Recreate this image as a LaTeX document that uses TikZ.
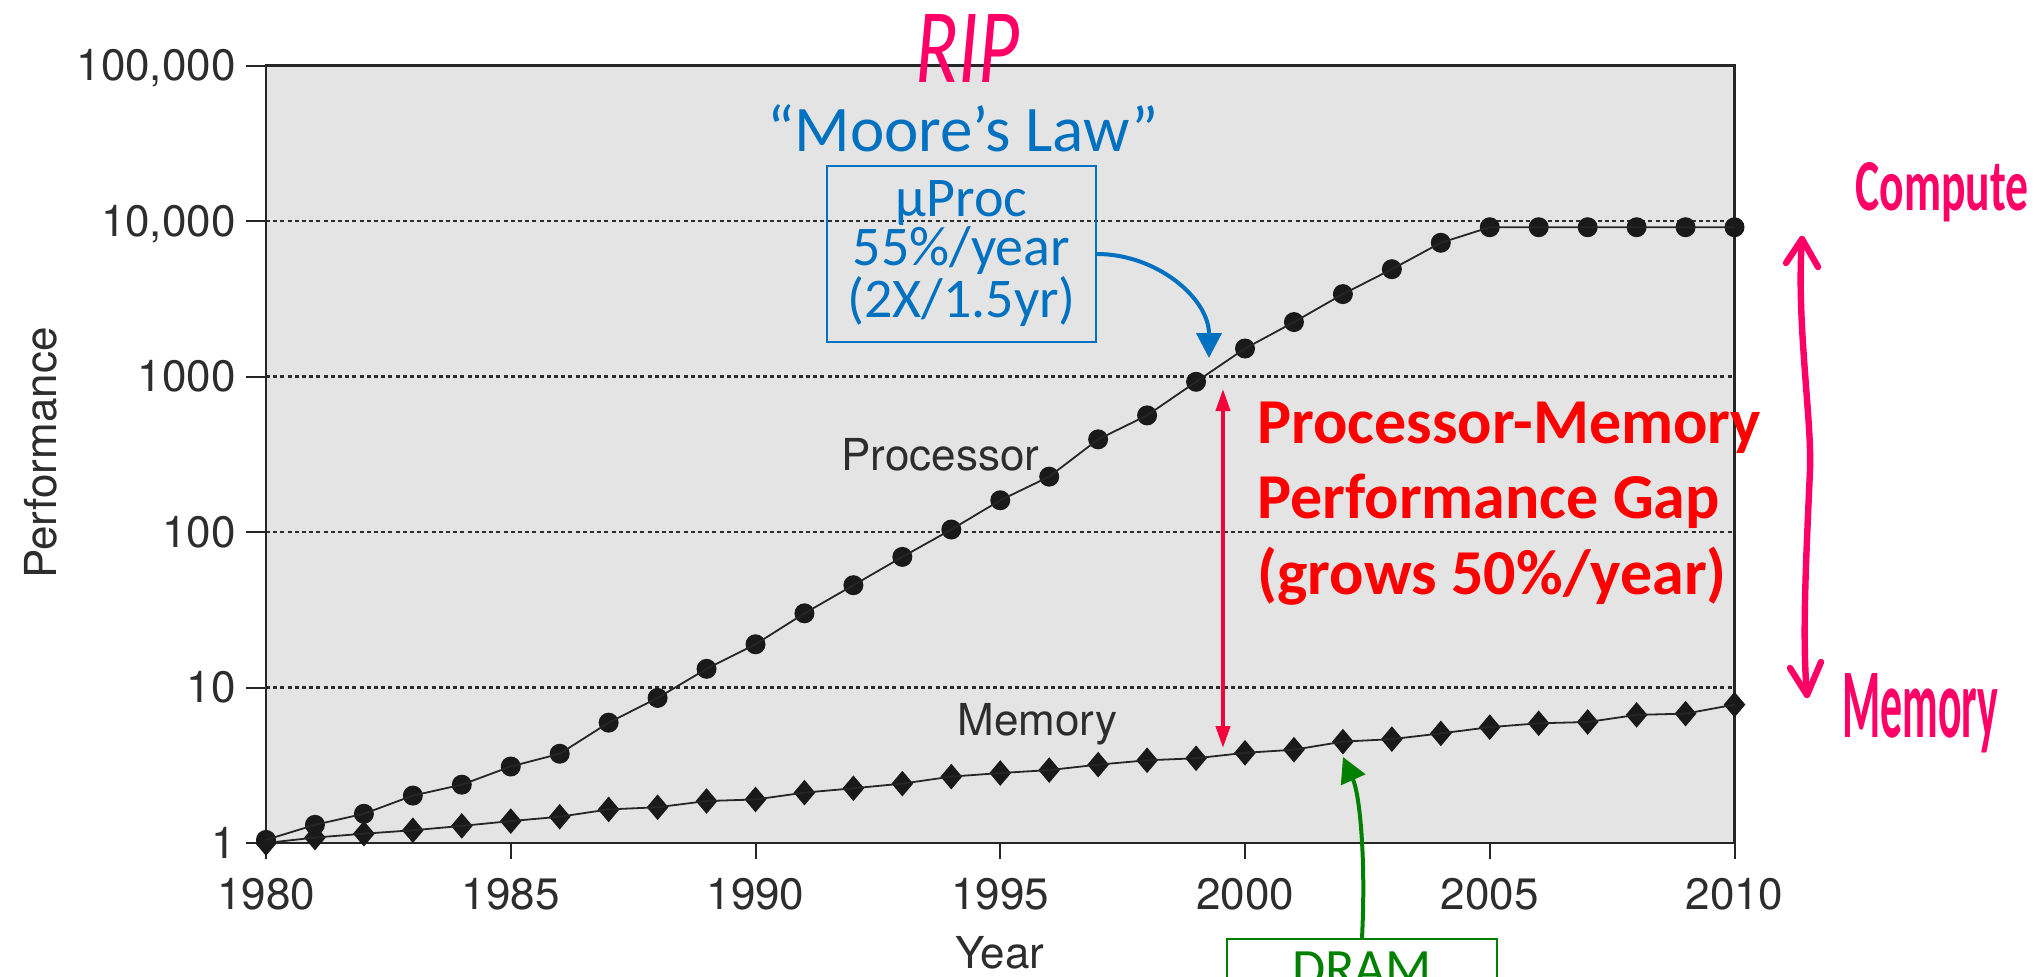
\documentclass[tikz,border=0pt]{standalone}
\usepackage{fontspec}
\setmainfont{TeX Gyre Heros}
\newfontfamily\calibfont{Carlito}
\usetikzlibrary{arrows.meta,shapes.geometric}
\definecolor{plotbg}{RGB}{228,228,228}
\definecolor{axisgray}{RGB}{45,45,45}
\definecolor{mblue}{RGB}{0,112,192}
\definecolor{gapred}{RGB}{255,0,0}
\definecolor{arrred}{RGB}{245,0,60}
\definecolor{dgreen}{RGB}{0,128,0}
\definecolor{hpink}{RGB}{255,0,102}
\begin{document}
\begin{tikzpicture}[x=0.5pt,y=-0.5pt,
  lbl/.style={text=axisgray, font=\fontsize{22pt}{26pt}\selectfont, inner sep=0pt},
  gridline/.style={line width=1.1pt, axisgray, dash pattern=on 2pt off 1.6pt},
  frameline/.style={line width=1.3pt, black!85},
  tickline/.style={line width=1pt, black!85},
  pmark/.style={circle, fill=black!90, inner sep=0pt, minimum size=10pt},
  mmark/.style={diamond, fill=black!90, inner sep=0pt, minimum width=11pt, minimum height=13pt},
  dline/.style={line width=0.9pt, black!85},
  redtxt/.style={text=gapred, inner sep=0pt, anchor=base west, font=\calibfont\bfseries\fontsize{32pt}{37.5pt}\selectfont},
  hand/.style={hpink, line width=3.2pt, line cap=round, line join=round},
  handtxt/.style={text=hpink, inner sep=0pt, anchor=base west}
]
\useasboundingbox (0,0) rectangle (2036,976);
\clip (0,0) rectangle (2036,976);

% plot area
\fill[plotbg] (266,65.5) rectangle (1734.5,843);
\foreach \yy in {221,376.5,532,687.5} \draw[gridline] (266,\yy) -- (1734.5,\yy);
\draw[frameline] (266,65.5) rectangle (1734.5,843);

% y ticks and labels
\foreach \yy/\t [count=\k] in {843/1,687.5/10,532/100,376.5/1000,221/{10,000},65.5/{100,000}} {
  \draw[tickline] (246,\yy) -- (266,\yy);
  \node[lbl, anchor=base east] (yl\k) at (236,\yy+15) {\t};
}
% x ticks and labels
\foreach \xx/\t [count=\k] in {266/1980,510.75/1985,755.5/1990,1000.25/1995,1245/2000,1489.75/2005,1734.5/2010} {
  \draw[tickline] (\xx,843) -- (\xx,859);
  \node[lbl, anchor=base] (xl\k) at (\xx,909) {\t};
}
\node[lbl, anchor=base, rotate=90] (ylab) at (56,453) {Performance};
\node[lbl, anchor=base] (xlab) at (1000,968) {Year};
\node[lbl, anchor=base west] (plab) at (841,470) {Processor};
\node[lbl, anchor=base west] (mlab) at (957,735) {Memory};

% data
\begin{scope}[shift={(266,843)}, x=24.475pt, y=77.75pt]
\foreach \l [count=\i from 0] in {0,0.035,0.06,0.082,0.11,0.141,0.169,0.216,0.23,0.27,
  0.28,0.324,0.352,0.382,0.427,0.45,0.469,0.504,0.532,0.545,
  0.58,0.6,0.652,0.668,0.705,0.745,0.77,0.778,0.824,0.832,0.89}
  \node[mmark] (m\i) at (\i,\l) {};
\draw[dline] (m0.center) foreach \i in {1,...,30} {-- (m\i.center)};
\foreach \l [count=\i from 0] in {0.02,0.117,0.188,0.305,0.375,0.492,0.574,0.774,0.933,1.12,
  1.278,1.477,1.658,1.84,2.016,2.204,2.356,2.596,2.75,2.966,
  3.18,3.35,3.53,3.69,3.86,3.96,3.96,3.96,3.96,3.96,3.96}
  \node[pmark] (p\i) at (\i,\l) {};
\draw[dline] (p0.center) foreach \i in {1,...,30} {-- (p\i.center)};
\end{scope}

% Moore's law annotation
\node[text=mblue, inner sep=0pt, anchor=base, font=\calibfont\fontsize{32.5pt}{37pt}\selectfont] (moore) at (963,151) {“Moore’s Law”};
\node[draw=mblue, line width=1pt, minimum width=134.5pt, minimum height=88pt, inner sep=0pt,
      align=center, text=mblue, font=\calibfont\fontsize{28pt}{24.5pt}\selectfont] (mbox) at (961.5,254)
      {µProc\\55\%/year\\(2X/1.5yr)};
\coordinate (bluetip) at (1209,358);
\draw[mblue, line width=2pt, -{Triangle[length=12.5pt,width=12.5pt]}] (mbox.east) to[out=0,in=90] (bluetip);

% gap annotation
\coordinate (gaptop) at (1223,389);
\coordinate (gapbot) at (1223,748);
\draw[arrred, line width=2pt, {Triangle[length=11pt,width=7pt]}-{Triangle[length=11pt,width=7pt]}] (gaptop) -- (gapbot);
\node[redtxt] (g1) at (1257,443) {Processor-Memory};
\node[redtxt] (g2) at (1257,518) {Performance Gap};
\node[redtxt] (g3) at (1257,594) {(grows 50\%/year)};

% DRAM annotation
\node[draw=dgreen, line width=1pt, minimum width=135pt, minimum height=88pt, inner sep=0pt, anchor=north] (drambox) at (1362,938) {};
\node[text=dgreen, inner sep=0pt, anchor=base, font=\calibfont\fontsize{27pt}{30pt}\selectfont] (dramtxt) at (1362,986) {DRAM};
\coordinate (dramtip) at (1343,757);
\draw[dgreen, line width=2pt, -{Triangle[length=12.5pt,width=13pt]}] (drambox.north) .. controls (1366,860) and (1360,795) .. (dramtip);

% handwritten notes
\node[handtxt] (rip) at (915,82) {\resizebox{52pt}{34pt}{\calibfont\itshape RIP}};
\node[handtxt] (compute) at (1855,210) {\resizebox{86.5pt}{24pt}{\calibfont\bfseries Compute}};
\node[handtxt] (memnote) at (1842,737) {\resizebox{78pt}{32pt}{\calibfont\bfseries Memory}};
\coordinate (ctop) at (1802,239);
\coordinate (cbot) at (1807,695);
\draw[hand] (ctop) .. controls (1796,320) and (1812,420) .. (1810,470) .. controls (1806,560) and (1802,640) .. (cbot);
\draw[hand] (1786,263) -- (ctop) -- (1818,267);
\draw[hand] (1790,668) -- (cbot) -- (1821,662);
\end{tikzpicture}
\end{document}
